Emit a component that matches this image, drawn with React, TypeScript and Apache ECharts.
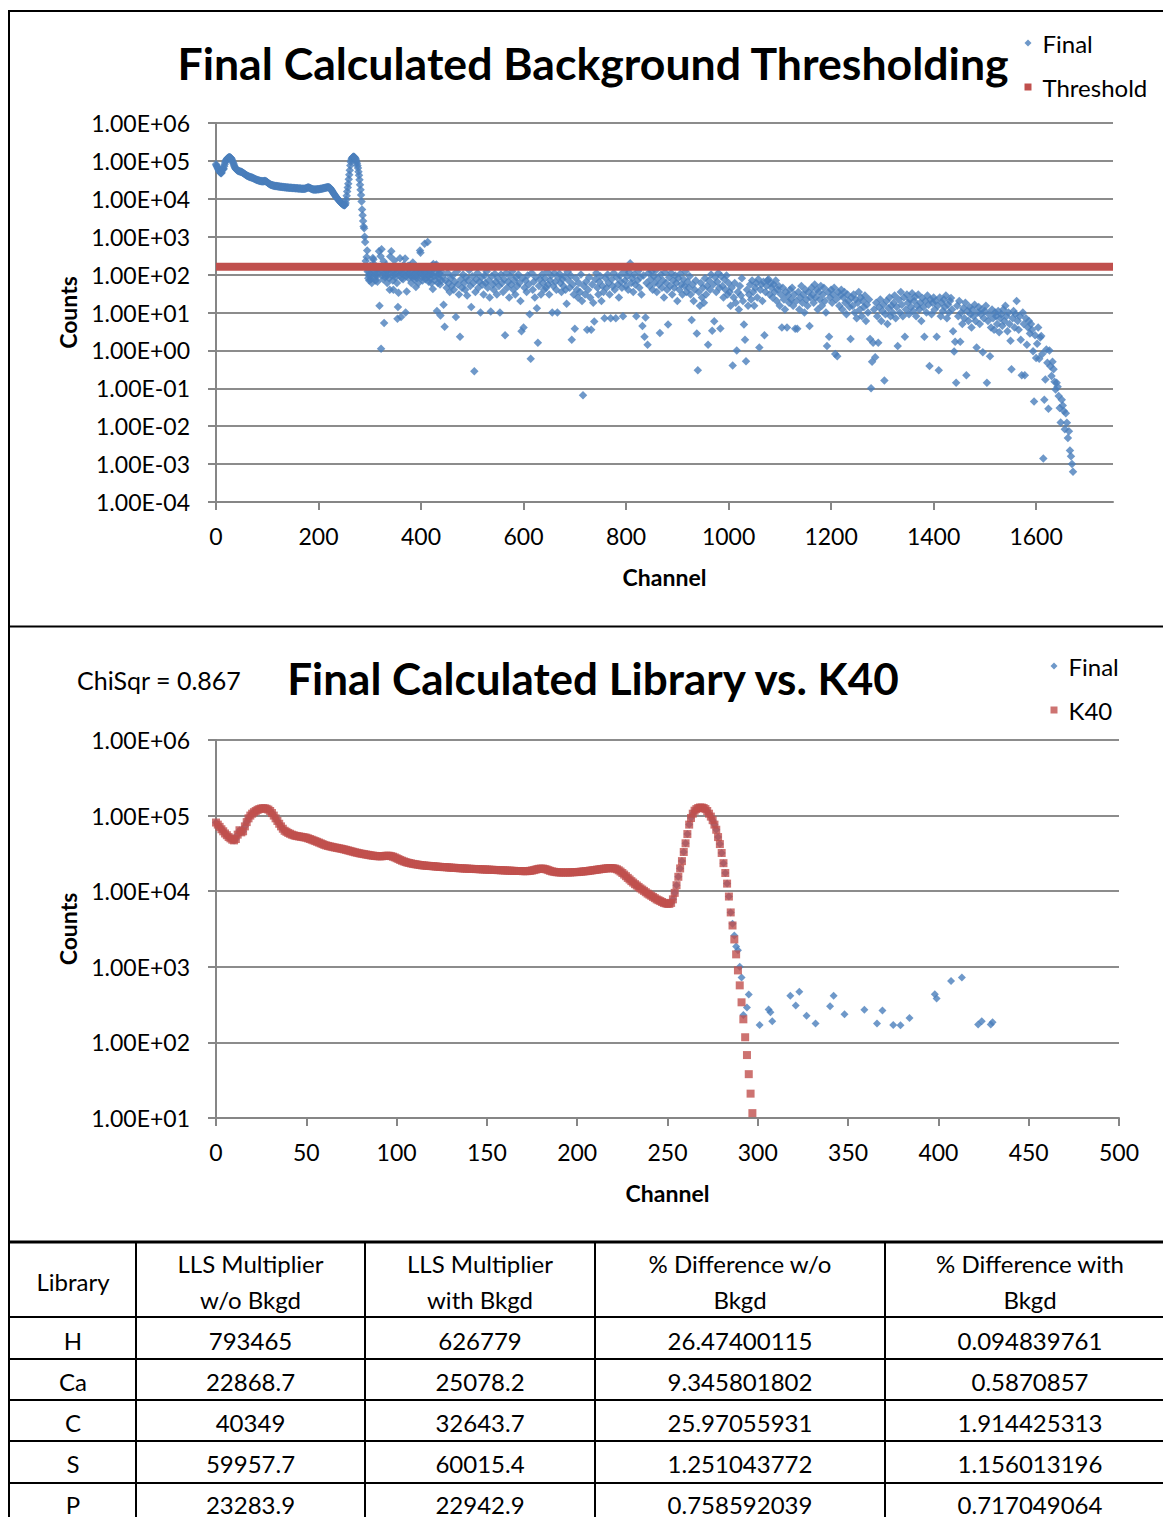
import React, { useEffect, useRef } from "react";
import * as echarts from "echarts";

// K40 library spectrum, one value per channel starting at channel 0
const k40Counts = [
  81000, 76000, 71000, 66000, 62000, 58000, 55000, 52000, 50000, 48000,
  47000, 49000, 56000, 64000, 60000, 62000, 72000, 82000, 92000, 100000,
  106000, 111000, 115000, 119000, 122000, 124000, 125000, 125000, 123000, 120000,
  115000, 108000, 100000, 92000, 85000, 78000, 72000, 67000, 63000, 61000,
  59000, 57500, 56000, 55000, 54000, 53500, 53000, 52500, 52000, 51500,
  51000, 50000, 49000, 48000, 47000, 46000, 45000, 44000, 43000, 42000,
  41000, 40300, 39700, 39200, 38700, 38200, 37800, 37400, 37000, 36600,
  36200, 35700, 35200, 34700, 34200, 33700, 33200, 32700, 32300, 31900,
  31500, 31200, 30900, 30600, 30300, 30000, 29700, 29500, 29300, 29100,
  29000, 28900, 29000, 29200, 29400, 29500, 29400, 29100, 28600, 28000,
  27300, 26600, 25900, 25300, 24800, 24300, 23900, 23600, 23300, 23000,
  22800, 22600, 22400, 22200, 22000, 21900, 21800, 21700, 21600, 21500,
  21400, 21300, 21200, 21100, 21000, 20900, 20800, 20800, 20700, 20600,
  20500, 20400, 20400, 20300, 20200, 20100, 20100, 20000, 19900, 19900,
  19800, 19800, 19700, 19700, 19600, 19600, 19500, 19500, 19400, 19400,
  19300, 19300, 19200, 19200, 19100, 19100, 19000, 19000, 18900, 18900,
  18800, 18800, 18700, 18700, 18600, 18600, 18500, 18500, 18500, 18500,
  18400, 18400, 18400, 18500, 18600, 18800, 19000, 19300, 19600, 19800,
  19900, 19900, 19700, 19400, 19000, 18600, 18300, 18100, 17900, 17800,
  17700, 17700, 17700, 17700, 17700, 17700, 17700, 17800, 17800, 17900,
  17900, 18000, 18100, 18200, 18300, 18400, 18500, 18700, 18800, 19000,
  19100, 19300, 19400, 19600, 19700, 19900, 20000, 20100, 20200, 20200,
  20100, 19900, 19500, 18900, 18200, 17400, 16600, 15800, 15000, 14300,
  13600, 13000, 12400, 11900, 11400, 10900, 10500, 10100, 9700, 9300,
  9000, 8700, 8400, 8100, 7800, 7600, 7400, 7200, 7000, 6900,
  6800, 6800, 7000, 7800, 9500, 12000, 15500, 20000, 25000, 33000,
  43000, 57000, 76000, 93000, 106000, 116000, 122000, 126000, 128000, 128000,
  126000, 122000, 115000, 106000, 97000, 87000, 76000, 65000, 52000, 42000,
  32000, 23500, 17400, 12600, 8500, 5240, 3520, 2300, 1460, 896,
  568, 339, 202, 117, 68, 38, 21, 11.6,
];

// Measured spectrum: below this channel it coincides with the K40 library
const finalNearStart = 286;
// Measured counts, one per channel from channel 286 to 440
const finalNearCounts = [
  3700, 2600, 1860, 1660, 1000, 720, 230, 150, 290, 430,
  120, 80, 95, 70, 110, 170, 75, 95, 60, 130,
  273, 250, 190, 85, 120, 70, 100, 140, 90, 65,
  110, 150, 415, 15, 130, 307, 1.1, 467, 95, 120,
  75, 225, 5.3, 140, 85, 110, 178, 95, 60, 125,
  100, 150, 80, 40, 300, 140, 415, 95, 120, 70,
  40, 130, 235, 100, 85, 145, 110, 60, 6.8, 14,
  33, 120, 95, 270, 130, 7.6, 80, 105, 140, 75,
  178, 100, 120, 264, 10, 90, 36, 125, 100, 170,
  80, 140, 110, 168, 95, 60, 120, 85, 210, 150,
  100, 75, 130, 90, 47, 115, 80, 140, 95, 60,
  120, 150, 435, 380, 110, 85, 130, 70, 100, 145,
  90, 650, 120, 75, 105, 140, 85, 720, 110, 65,
  95, 130, 80, 120, 60, 100, 173, 42, 191, 90,
  150, 70, 115, 173, 185, 11, 95, 60, 130, 80,
  105, 55, 8.3, 120, 70,
];

// Measured counts, every second channel from channel 442 to 1672
const finalFarStart = 442;
const finalFarStep = 2;
const finalFarCounts = [
  90, 16, 4.2, 70, 45, 110, 60, 35, 80, 50, 95, 40, 65, 7.6, 120, 55, 30, 2.3, 75, 45,
  100, 60, 40, 85, 28, 70, 130, 50, 14, 90, 60, 0.28, 35, 75, 110, 45, 65, 10, 85, 55,
  30, 95, 60, 120, 45, 70, 25, 10.7, 90, 55, 40, 105, 65, 30, 80, 50, 10, 100, 60, 35,
  75, 2.5, 110, 45, 65, 25, 90, 55, 120, 40, 70, 30, 85, 50, 100, 60, 20, 3.2, 80, 4,
  45, 70, 35, 95, 55, 9, 0.6, 110, 40, 65, 25, 85, 13, 1.6, 50, 75, 30, 100, 60, 40,
  80, 45, 120, 55, 30, 70, 95, 10, 50, 110, 65, 40, 10, 85, 105, 60, 35, 75, 50, 90,
  40, 17, 120, 70, 45, 95, 1.9, 55, 30, 3.7, 80, 40, 25, 60, 35, 100, 20, 0.066, 50, 30,
  65, 3.5, 40, 85, 25, 3.5, 55, 18, 5.8, 75, 110, 45, 30, 65, 90, 20, 50, 35, 7, 80,
  45, 100, 60, 30, 7, 75, 50, 110, 40, 7, 85, 55, 25, 95, 65, 45, 8, 120, 70, 50,
  90, 40, 115, 200, 60, 80, 35, 100, 55, 8, 70, 125, 45, 85, 30, 4.4, 95, 2.3, 7.4, 60,
  1.4, 110, 50, 75, 120, 40, 90, 60, 130, 35, 80, 55, 2.9, 100, 45, 70, 25, 115, 60, 40,
  4.8, 85, 50, 110, 30, 70, 45, 95, 60, 20, 80, 40, 105, 55, 30, 75, 50, 120, 35, 65,
  45, 90, 30, 6.3, 55, 20, 40, 70, 2.8, 0.3, 35, 15, 60, 25, 45, 18, 80, 30, 50, 1.4,
  70, 40, 100, 3.3, 55, 5.9, 85, 35, 65, 110, 45, 3.8, 90, 50, 25, 75, 40, 95, 30, 60,
  35, 15, 45, 0.4, 25, 60, 18, 1.0, 35, 12, 50, 28, 80, 20, 4.8, 1.9, 0.52, 40, 15, 30,
  55, 22, 70, 35, 15, 45, 60, 25, 75, 1.2, 40, 55, 20, 65, 2.5, 35, 50, 70, 75, 30,
  60, 45, 25, 55, 35, 70, 20, 40, 50, 15, 30, 4, 45, 22, 12, 35, 4, 28, 18, 40,
  22, 45, 15, 30, 3.7, 20, 3.7, 35, 12, 25, 50, 18, 30, 10, 40, 22, 15, 35, 4.4, 25,
  45, 30, 18, 55, 25, 40, 12, 35, 22, 50, 15, 30, 45, 20, 10, 1.3, 35, 2.3, 25, 40,
  18, 30, 45, 0.8, 22, 0.7, 35, 15, 28, 40, 12, 25, 35, 18, 9, 30, 20, 14, 2.0, 25,
  15, 30, 10, 22, 7, 18, 35, 12, 25, 8, 20, 14, 28, 6, 16, 10, 22, 2.0, 0.1, 0.5,
  1.6, 12, 0.66, 18, 8, 1.6, 14, 22, 6, 11, 16, 0.16, 9, 20, 5, 13, 25, 8, 15, 10,
  18, 28, 7, 14, 1.3, 22, 10, 35, 16, 8, 25, 2.3, 12, 30, 18, 9, 22, 14, 32, 11,
  20, 26, 8, 15, 30, 12, 18, 6, 24, 14, 2.3, 20, 10, 28, 16, 0.39, 22, 9, 18, 25,
  12, 20, 2.3, 15, 0.3, 25, 8, 18, 11, 22, 14, 28, 7, 16, 10, 20, 24, 12, 3.2, 0.93,
  1.7, 0.14, 15, 8, 20, 1.7, 10, 5, 13, 7, 18, 0.22, 11, 6, 14, 9, 4, 12, 8, 16,
  6, 1.2, 10, 14, 5, 9, 12, 0.9, 7, 11, 15, 0.14, 6, 9, 0.7, 4, 12, 7, 3.5, 10,
  8, 5, 11, 3, 7, 9, 4.5, 12, 6, 15, 8, 3.2, 10, 5, 1.8, 0.32, 7, 11, 4, 9,
  20, 6, 3.5, 8, 1.9, 0.22, 10, 5, 0.22, 7, 1.4, 4, 6, 2.8, 5, 3.5, 0.95, 0.045, 2.5, 0.63,
  1.5, 4, 0.6, 2.2, 2.4, 0.8, 0.0014, 0.05, 0.17, 1.05, 0.47, 0.029, 1.0, 0.38, 0.21, 0.5, 0.32, 0.15, 0.093, 0.14,
  0.11, 0.063, 0.03, 0.0126, 0.05, 0.035, 0.025, 0.0083, 0.022, 0.0123, 0.0049, 0.0074, 0.0023, 0.0016, 0.001, 0.00063,
];

// Background threshold level and the channel span it is drawn over
const thresholdCounts = 160;
const thresholdChannels = [0, 1750];

// Axis ticks
const bkgXTicks = [0, 200, 400, 600, 800, 1000, 1200, 1400, 1600];
const bkgYTicks = [1e-4, 1e-3, 1e-2, 1e-1, 1, 10, 100, 1e3, 1e4, 1e5, 1e6];
const libXTicks = [0, 50, 100, 150, 200, 250, 300, 350, 400, 450, 500];
const libYTicks = [10, 100, 1e3, 1e4, 1e5, 1e6];

const chiSqr = 0.867;

// Summary table
const tableHeaders = [
  ["Library"],
  ["LLS Multiplier", "w/o Bkgd"],
  ["LLS Multiplier", "with Bkgd"],
  ["% Difference w/o", "Bkgd"],
  ["% Difference with", "Bkgd"],
];
const tableLibraries = ["H", "Ca", "C", "S", "P"];
const llsWithoutBkgd = [793465, 22868.7, 40349, 59957.7, 23283.9];
const llsWithBkgd = [626779, 25078.2, 32643.7, 60015.4, 22942.9];
const pctDiffWithoutBkgd = [26.47400115, 9.345801802, 25.97055931, 1.251043772, 0.758592039];
const pctDiffWithBkgd = [0.094839761, 0.5870857, 1.914425313, 1.156013196, 0.717049064];

const FONT = "Lato";
const BLUE = "#4A7EBB";
const RED = "#C0504D";
const GRID_GREY = "#8c8c8c";

const sci = (v: number) => {
  const [m, ex] = v.toExponential(2).split("e");
  const n = Number(ex);
  return `${m}E${n < 0 ? "-" : "+"}${String(Math.abs(n)).padStart(2, "0")}`;
};

function buildOption() {
  const k40Series = k40Counts.map((v, ch) => [ch, v]);
  const finalSpectrum: number[][] = [
    ...k40Counts.slice(0, finalNearStart).map((v, ch) => [ch, v]),
    ...finalNearCounts.map((v, i) => [finalNearStart + i, v]),
    ...finalFarCounts.map((v, i) => [finalFarStart + i * finalFarStep, v]),
  ];
  const finalAboveThreshold = finalSpectrum.filter(([ch, v]) => v >= thresholdCounts && ch <= 500);

  const labelStyle = { fontFamily: FONT, fontSize: 23, color: "#000" };
  const nameStyle = { fontFamily: FONT, fontSize: 23, fontWeight: "bold" as const, color: "#000" };
  const axisLine = { show: true, onZero: false, lineStyle: { color: "#868686", width: 2 } };

  const xAxisBase = (gridIndex: number, max: number, interval: number, ticks: number[]) => ({
    type: "value",
    gridIndex,
    min: 0,
    max,
    interval,
    name: "Channel",
    nameLocation: "middle",
    nameGap: 63,
    nameTextStyle: nameStyle,
    axisLine,
    axisTick: { show: true, length: 8, customValues: ticks, lineStyle: { color: "#868686", width: 2 } },
    axisLabel: { ...labelStyle, margin: 22, customValues: ticks, formatter: (v: number) => String(v) },
    splitLine: { show: false },
  });
  const yAxisBase = (gridIndex: number, min: number, ticks: number[]) => ({
    type: "log",
    logBase: 10,
    gridIndex,
    min,
    max: 1e6,
    name: "Counts",
    nameLocation: "middle",
    nameRotate: 90,
    nameGap: 137,
    nameTextStyle: nameStyle,
    axisLine,
    axisTick: { show: true, length: 8, customValues: ticks, lineStyle: { color: "#868686", width: 2 } },
    axisLabel: { ...labelStyle, margin: 26, customValues: ticks, formatter: (v: number) => sci(v) },
    splitLine: { show: true, lineStyle: { color: GRID_GREY, width: 2 } },
  });

  const graphic: any[] = [];
  const text = (x: number, y: number, t: string, size: number, bold = false, align = "center") =>
    graphic.push({
      type: "text",
      x,
      y,
      silent: true,
      style: {
        text: t,
        fontFamily: FONT,
        fontSize: size,
        fontWeight: bold ? "bold" : "normal",
        fill: "#000",
        align,
        verticalAlign: "middle",
      },
    });
  const line = (x1: number, y1: number, x2: number, y2: number, w = 2) =>
    graphic.push({
      type: "line",
      silent: true,
      shape: { x1, y1, x2, y2 },
      style: { stroke: "#000", lineWidth: w },
    });

  // Titles and fit statistic
  text(593, 62, "Final Calculated Background Thresholding", 44.6, true);
  text(593, 678, "Final Calculated Library vs. K40", 44, true);
  text(77, 680, `ChiSqr = ${chiSqr}`, 25, false, "left");

  // Panel frames
  line(8, 11, 1163, 11);
  line(9, 10, 9, 1517);
  line(8, 626.5, 1163, 626.5);

  // Table grid
  const colEdges = [136, 365, 595, 885];
  const colCenters = [73, 250.5, 480, 740, 1030];
  const rowEdges = [1317, 1359, 1400, 1441, 1483];
  const rowCenters = [1340, 1381, 1422, 1463, 1504];
  line(8, 1242, 1163, 1242, 3);
  rowEdges.forEach((y) => line(9, y, 1163, y));
  colEdges.forEach((x) => line(x, 1242, x, 1517));
  tableHeaders.forEach((lines, c) => {
    if (lines.length === 1) text(colCenters[c], 1281, lines[0], 24);
    else {
      text(colCenters[c], 1263, lines[0], 24);
      text(colCenters[c], 1299, lines[1], 24);
    }
  });
  const columns = [tableLibraries, llsWithoutBkgd, llsWithBkgd, pctDiffWithoutBkgd, pctDiffWithBkgd];
  columns.forEach((col, c) =>
    col.forEach((v, r) => text(colCenters[c], rowCenters[r], String(v), 24))
  );

  const legendBase = {
    orient: "vertical",
    itemGap: 20,
    itemWidth: 7,
    itemHeight: 7,
    selectedMode: false,
    textStyle: { fontFamily: FONT, fontSize: 24, color: "#000", padding: [0, 0, 0, 6] },
  };

  return {
    animation: false,
    backgroundColor: "#fff",
    textStyle: { fontFamily: FONT },
    grid: [
      { left: 216, top: 123, width: 897, height: 379 },
      { left: 216, top: 740, width: 903, height: 378 },
    ],
    xAxis: [xAxisBase(0, 1750, 200, bkgXTicks), xAxisBase(1, 500, 50, libXTicks)],
    yAxis: [yAxisBase(0, 1e-4, bkgYTicks), yAxisBase(1, 10, libYTicks)],
    legend: [
      {
        ...legendBase,
        left: 1019.5,
        top: 26,
        data: [
          { name: "Final", icon: "diamond" },
          { name: "Threshold", icon: "rect" },
        ],
      },
      {
        ...legendBase,
        left: 1045.5,
        top: 649,
        data: [
          { name: "Final", icon: "diamond" },
          { name: "K40", icon: "rect" },
        ],
      },
    ],
    graphic,
    series: [
      {
        name: "Final",
        type: "scatter",
        xAxisIndex: 0,
        yAxisIndex: 0,
        data: finalSpectrum,
        symbol: "diamond",
        symbolSize: 8.5,
        itemStyle: { color: BLUE },
        silent: true,
        z: 2,
      },
      {
        name: "Threshold",
        type: "line",
        xAxisIndex: 0,
        yAxisIndex: 0,
        data: thresholdChannels.map((ch) => [ch, thresholdCounts]),
        symbol: "none",
        lineStyle: { color: RED, width: 8 },
        itemStyle: { color: RED },
        silent: true,
        z: 3,
      },
      {
        name: "Final",
        type: "scatter",
        xAxisIndex: 1,
        yAxisIndex: 1,
        data: finalAboveThreshold,
        symbol: "diamond",
        symbolSize: 8,
        itemStyle: { color: BLUE },
        silent: true,
        z: 2,
      },
      {
        name: "K40",
        type: "scatter",
        xAxisIndex: 1,
        yAxisIndex: 1,
        data: k40Series,
        symbol: "rect",
        symbolSize: 8,
        itemStyle: { color: RED },
        silent: true,
        z: 3,
      },
    ],
  };
}

export default function App() {
  const ref = useRef<HTMLDivElement>(null);
  useEffect(() => {
    if (!ref.current) return;
    const chart = echarts.init(ref.current, undefined, { renderer: "svg" });
    chart.setOption(buildOption() as any);
    return () => chart.dispose();
  }, []);
  return (
    <div
      ref={ref}
      style={{ position: "absolute", left: 0, top: 0, width: 1163, height: 1517, background: "#fff" }}
    />
  );
}
